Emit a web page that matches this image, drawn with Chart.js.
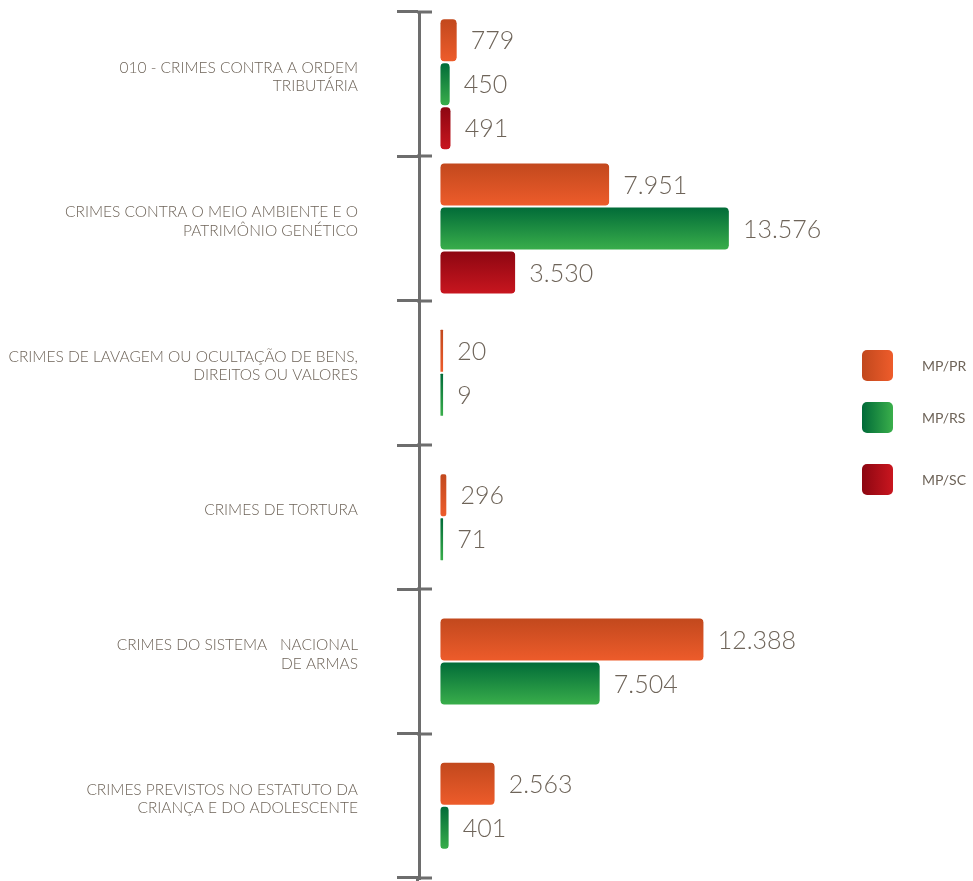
<!DOCTYPE html>
<html>
<head>
<meta charset="utf-8">
<script src="https://cdn.jsdelivr.net/npm/chart.js@4.4.1/dist/chart.umd.min.js"></script>
<style>
  html, body { margin: 0; padding: 0; background: #fff; }
  #wrap { width: 973px; height: 881px; }
</style>
</head>
<body>
<div id="wrap"><canvas id="myChart"></canvas></div>
<script>
// categories (multi-line labels as in the original)
const categories = [
  ['010 - CRIMES CONTRA A ORDEM', 'TRIBUTÁRIA'],
  ['CRIMES CONTRA O MEIO AMBIENTE E O', 'PATRIMÔNIO GENÉTICO'],
  ['CRIMES DE LAVAGEM OU OCULTAÇÃO DE BENS,', 'DIREITOS OU VALORES'],
  ['CRIMES DE TORTURA'],
  ['CRIMES DO SISTEMA   NACIONAL', 'DE ARMAS'],
  ['CRIMES PREVISTOS NO ESTATUTO DA', 'CRIANÇA E DO ADOLESCENTE']
];
const seriesNames = ['MP/PR', 'MP/RS', 'MP/SC'];
const valuesPR = [779, 7951, 20, 296, 12388, 2563];
const valuesRS = [450, 13576, 9, 71, 7504, 401];
const valuesSC = [491, 3530, null, null, null, null];

// dark -> light for each series
const shades = [
  ['#c1481d', '#ee5c2b'],
  ['#006a38', '#3aaf4b'],
  ['#8c0611', '#c9161f']
];
const textColor = '#6e6459';
const axisColor = '#6d6d6d';

function formatBR(v) {
  return String(v).replace(/\B(?=(\d{3})+(?!\d))/g, '.');
}

// vertical gradient inside each bar
function barFill(i) {
  return (ctx) => {
    const el = ctx.element;
    if (!el || !Number.isFinite(el.y) || !Number.isFinite(el.height)) return shades[i][1];
    const g = ctx.chart.ctx.createLinearGradient(0, el.y - el.height / 2, 0, el.y + el.height / 2);
    g.addColorStop(0, shades[i][0]);
    g.addColorStop(1, shades[i][1]);
    return g;
  };
}

function makeDataset(i, data) {
  return {
    label: seriesNames[i],
    data: data,
    backgroundColor: barFill(i),
    borderColor: 'rgba(0,0,0,0)',
    borderWidth: {top: 1, bottom: 1, left: 0, right: 0},
    borderSkipped: false,
    borderRadius: 5,
    inflateAmount: 0,
    barThickness: 44,
    minBarLength: 3,
    skipNull: true
  };
}

// value labels at the end of each bar
const valueLabels = {
  id: 'valueLabels',
  afterDatasetsDraw(chart) {
    const c = chart.ctx;
    c.save();
    c.font = '300 25px Lato';
    c.fillStyle = textColor;
    c.textBaseline = 'middle';
    c.textAlign = 'left';
    chart.data.datasets.forEach((ds, di) => {
      const meta = chart.getDatasetMeta(di);
      meta.data.forEach((el, idx) => {
        const v = ds.data[idx];
        if (v === null || v === undefined) return;
        c.fillText(formatBR(v), el.x + 14, el.y + 1);
      });
    });
    c.restore();
  }
};

// short tick stubs crossing into the plot area
const axisStubs = {
  id: 'axisStubs',
  afterDraw(chart) {
    const y = chart.scales.y, c = chart.ctx;
    c.save();
    c.strokeStyle = axisColor;
    c.lineWidth = 3;
    for (let i = 0; i <= categories.length; i++) {
      const py = Math.round(y.getPixelForValue(i - 0.5));
      c.beginPath();
      c.moveTo(y.right - 2, py);
      c.lineTo(y.right + 13, py);
      c.stroke();
    }
    c.beginPath();
    c.moveTo(y.right - 1.5, chart.chartArea.bottom);
    c.lineTo(y.right - 1.5, chart.height);
    c.stroke();
    c.restore();
  }
};

// legend on the right with gradient rounded squares
const sideLegend = {
  id: 'sideLegend',
  afterDraw(chart, args, opts) {
    const c = chart.ctx;
    c.save();
    chart.data.datasets.forEach((ds, i) => {
      const x = opts.x, y = opts.tops[i], s = 31;
      const g = c.createLinearGradient(x, 0, x + s, 0);
      g.addColorStop(0, shades[i][0]);
      g.addColorStop(1, shades[i][1]);
      c.fillStyle = g;
      c.beginPath();
      c.roundRect(x, y, s, s, 5);
      c.fill();
      c.fillStyle = textColor;
      c.font = '14px Lato';
      c.textBaseline = 'middle';
      c.fillText(ds.label, x + 60, y + s / 2 + 1);
    });
    c.restore();
  }
};

const config = {
  type: 'bar',
  data: {
    labels: categories,
    datasets: [
      makeDataset(0, valuesPR),
      makeDataset(1, valuesRS),
      makeDataset(2, valuesSC)
    ]
  },
  options: {
    indexAxis: 'y',
    responsive: true,
    maintainAspectRatio: false,
    animation: false,
    layout: { padding: { top: 12, bottom: 3, left: 0, right: 133 } },
    scales: {
      x: {
        type: 'linear',
        display: false,
        min: -1000,
        max: 18800
      },
      y: {
        afterFit: (scale) => {
          scale.width = 419;
          scale.paddingTop = 0;
          scale.paddingBottom = 0;
        },
        grid: {
          offset: true,
          drawOnChartArea: false,
          tickLength: 22,
          color: axisColor,
          lineWidth: 3
        },
        border: { color: axisColor, width: 3 },
        ticks: {
          color: textColor,
          padding: 39,
          labelOffset: -7,
          font: { family: 'Lato', weight: 300, size: 15.5, lineHeight: 1.2 }
        }
      }
    },
    plugins: {
      legend: { display: false },
      tooltip: { enabled: false },
      sideLegend: { x: 862, tops: [350, 402, 464] }
    }
  },
  plugins: [valueLabels, axisStubs, sideLegend]
};

var ctx = document.getElementById('myChart').getContext('2d');
var myChart = new Chart(ctx, config);
// second pass so the bar gradients know where each bar sits
myChart.update();
</script>
</body>
</html>
